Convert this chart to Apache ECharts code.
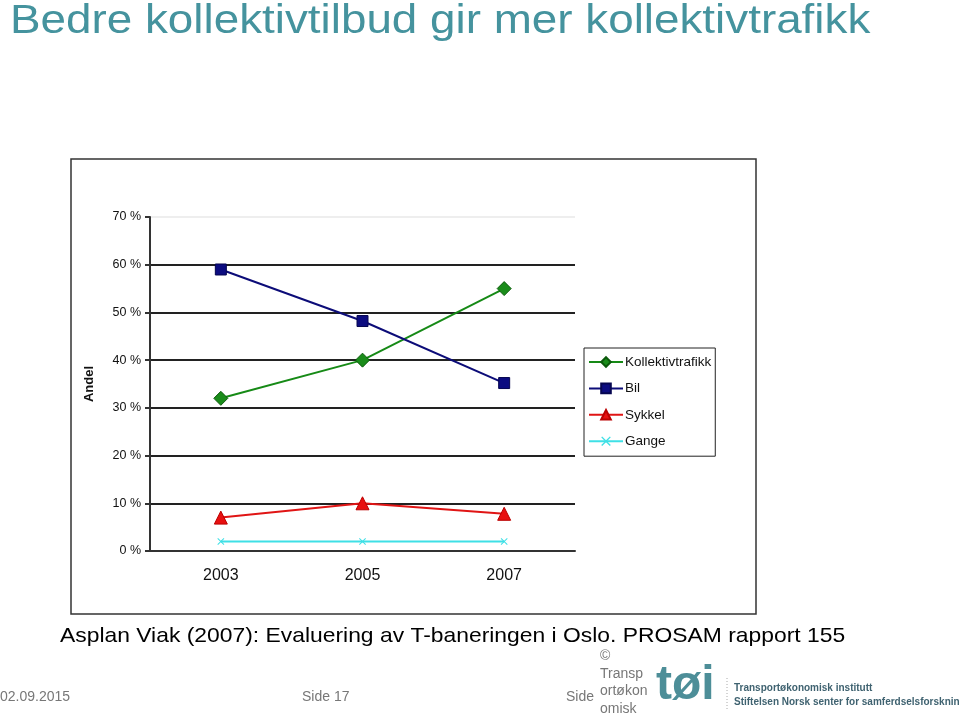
<!DOCTYPE html>
<html><head><meta charset="utf-8">
<script src="https://cdn.jsdelivr.net/npm/echarts@6/dist/echarts.min.js"></script>
<style>html,body{margin:0;padding:0;background:#fff}#c{width:960px;height:713px}</style>
</head><body><div id="c"></div>
<script>
const categories = ['2003', '2005', '2007'];
const kollektiv = [32, 40, 55];
const bil = [59, 48.2, 35.2];
const sykkel = [7, 10, 7.8];
const gange = [2, 2, 2];
const yTicks = [0, 10, 20, 30, 40, 50, 60, 70];

const chart = echarts.init(document.getElementById('c'));
const F = 'Arial, "Liberation Sans", sans-serif';
const xSym = 'path://M0,1L1,0L5,4L9,0L10,1L6,5L10,9L9,10L5,6L1,10L0,9L4,5Z';
chart.setOption({
  animation: false,
  textStyle: {fontFamily: F},
  grid: {left: 150, right: 385, top: 217, bottom: 162},
  legend: {
    orient: 'vertical', left: 584, top: 348, width: 131, height: 108,
    borderColor: '#222', borderWidth: 1, padding: [7, 4, 8, 4],
    itemWidth: 34, itemHeight: 12, itemGap: 12.4,
    textStyle: {fontFamily: F, fontSize: 13.5, color: '#111', padding: [0, 0, 0, -3]},
    data: ['Kollektivtrafikk', 'Bil', 'Sykkel', 'Gange']
  },
  xAxis: {
    type: 'category', data: categories, boundaryGap: true,
    axisLine: {lineStyle: {color: '#333', width: 2}},
    axisTick: {length: 5, lineStyle: {color: '#333', width: 2}},
    axisLabel: {fontSize: 16, color: '#111', margin: 17, fontFamily: F}
  },
  yAxis: {
    type: 'value', min: yTicks[0], max: yTicks[yTicks.length - 1], interval: 10,
    name: 'Andel', nameLocation: 'middle', nameGap: 54, nameRotate: 90,
    nameTextStyle: {fontWeight: 'bold', fontSize: 13, color: '#111', fontFamily: F},
    axisLine: {show: true, lineStyle: {color: '#333', width: 2}},
    axisTick: {show: true, length: 5, lineStyle: {color: '#333', width: 2}},
    axisLabel: {formatter: '{value} %', fontSize: 12.5, color: '#111', margin: 9, fontFamily: F},
    splitLine: {show: true, lineStyle: {width: 2, color: ['#222','#222','#222','#222','#222','#222','#222','#eeeeee']}}
  },
  series: [
    {name: 'Kollektivtrafikk', type: 'line', data: kollektiv, symbol: 'diamond', symbolSize: 14,
     lineStyle: {color: '#168a16', width: 2}, itemStyle: {color: '#1a8c1a', borderColor: '#0b5a0b', borderWidth: 1}},
    {name: 'Bil', type: 'line', data: bil, symbol: 'rect', symbolSize: 11,
     lineStyle: {color: '#0c0c78', width: 2}, itemStyle: {color: '#0c0c80', borderColor: '#060650', borderWidth: 1}},
    {name: 'Sykkel', type: 'line', data: sykkel, symbol: 'triangle', symbolSize: 13,
     lineStyle: {color: '#e01515', width: 2}, itemStyle: {color: '#e81010', borderColor: '#b00', borderWidth: 1}},
    {name: 'Gange', type: 'line', data: gange, symbol: xSym, symbolSize: 7,
     lineStyle: {color: '#3fe0e6', width: 2}, itemStyle: {color: '#3fe0e6'}}
  ],
  graphic: [
    {type: 'rect', shape: {x: 71, y: 159, width: 685, height: 455}, silent: true, z: -1,
     style: {fill: 'none', stroke: '#333', lineWidth: 1.5}},
    {type: 'text', x: 10, y: 2, scaleX: 1.145, style: {text: 'Bedre kollektivtilbud gir mer kollektivtrafikk',
     font: '40px ' + F, fill: '#45939e'}},
    {type: 'text', x: 60, y: 626, scaleX: 1.089, style: {text: 'Asplan Viak (2007): Evaluering av T-baneringen i Oslo. PROSAM rapport 155',
     font: '21px ' + F, fill: '#000'}},
    {type: 'text', left: 0, top: 690, style: {text: '02.09.2015', font: '14px ' + F, fill: '#777'}},
    {type: 'text', left: 302, top: 690, style: {text: 'Side 17', font: '14px ' + F, fill: '#777'}},
    {type: 'text', left: 566, top: 690, style: {text: 'Side', font: '14px ' + F, fill: '#777'}},
    {type: 'text', left: 600, top: 647, style: {text: '©\nTransp\nortøkon\nomisk', font: '14px ' + F, fill: '#777', lineHeight: 17.8}},
    {type: 'text', left: 656, top: 662, style: {text: 'tøi', font: 'bold 48px ' + F, fill: '#4d8e98'}},
    {type: 'line', shape: {x1: 727, y1: 678, x2: 727, y2: 710}, style: {stroke: '#aaa', lineWidth: 1, lineDash: [1, 2]}},
    {type: 'text', left: 734, top: 683, style: {text: 'Transportøkonomisk institutt', font: 'bold 10px ' + F, fill: '#3f6270'}},
    {type: 'text', left: 734, top: 697, style: {text: 'Stiftelsen Norsk senter for samferdselsforskning', font: 'bold 10px ' + F, fill: '#3f6270'}}
  ]
});
</script></body></html>
